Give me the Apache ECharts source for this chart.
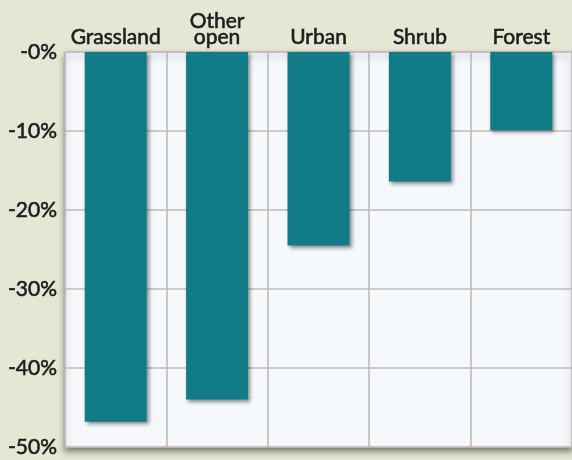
<!DOCTYPE html>
<html><head><meta charset="utf-8">
<script src="https://cdn.jsdelivr.net/npm/echarts@6/dist/echarts.min.js"></script>
<style>html,body{margin:0;padding:0;background:#e5e7d5;}#c{width:572px;height:460px;}</style>
</head><body><div id="c"></div>
<script>
const categories = ['Grassland', 'Other\nopen', 'Urban', 'Shrub', 'Forest'];
const values = [-46.8, -44.0, -24.5, -16.4, -9.9];
const yTicks = [0, -10, -20, -30, -40, -50];

const chart = echarts.init(document.getElementById('c'), null, {renderer: 'canvas'});
const font = 'Lato, "Open Sans", sans-serif';
chart.setOption({
  backgroundColor: '#e5e7d5',
  animation: false,
  grid: {
    left: 65, top: 52, width: 510, bottom: 13,
    show: true, backgroundColor: '#f5f9fc', borderColor: '#c7bcbc', borderWidth: 1,
    shadowColor: 'rgba(40,40,30,0.55)', shadowBlur: 6, shadowOffsetY: 4, shadowOffsetX: 0
  },
  xAxis: {
    type: 'category', position: 'top', data: categories,
    axisLine: {show: false}, axisTick: {show: false},
    axisLabel: {interval: 0, color: '#1e1e1e', fontSize: 21, fontWeight: 'normal', fontFamily: font, margin: 7, lineHeight: 16,
      textBorderColor: '#1e1e1e', textBorderWidth: 0.6},
    splitLine: {show: true, interval: 0, lineStyle: {color: '#bfb2b2', width: 1.5}}
  },
  yAxis: {
    type: 'value', min: -50, max: 0, interval: 10,
    axisLine: {show: false}, axisTick: {show: false},
    axisLabel: {
      color: '#1e1e1e', fontSize: 21, fontWeight: 'normal', fontFamily: font, margin: 8,
      textBorderColor: '#1e1e1e', textBorderWidth: 0.6,
      padding: [5, 0, 0, 0],
      formatter: v => (v === 0 ? '-0%' : v + '%')
    },
    splitLine: {show: true, lineStyle: {color: '#c4b8b8', width: 1.5}}
  },
  series: [{
    type: 'bar', data: values, barWidth: 62,
    itemStyle: {
      color: '#127b88',
      shadowColor: 'rgba(0,0,0,0.45)', shadowBlur: 4, shadowOffsetX: 2, shadowOffsetY: 2
    }
  }]
});
</script></body></html>
